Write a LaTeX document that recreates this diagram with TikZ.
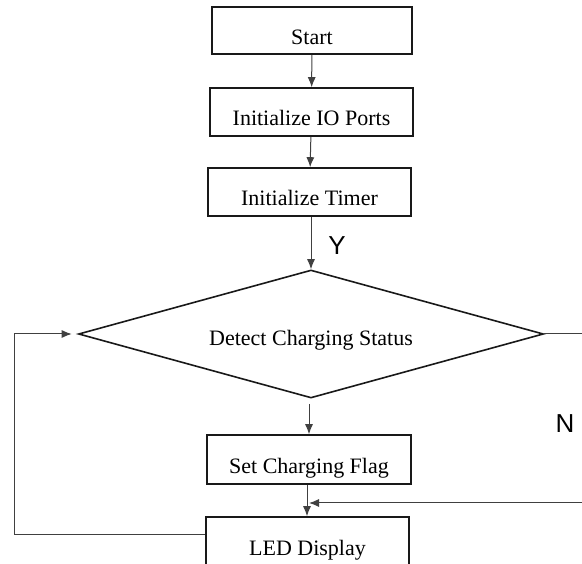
\documentclass[tikz,border=0pt]{standalone}
\usepackage{fontspec}
\setmainfont{Liberation Serif}
\newfontfamily\yesnofont{Liberation Sans}
\usetikzlibrary{shapes.geometric,arrows.meta}

\tikzset{
  stepbox/.style={draw=black!90, line width=1.6pt, inner sep=0pt,
    minimum width=203pt, minimum height=48pt,
    text height=28pt, text depth=0pt, font=\fontsize{22}{26}\selectfont},
  decide/.style={draw=black!90, shape=diamond, shape aspect=3.63, line width=1.6pt, inner sep=0pt,
    minimum width=465pt, minimum height=128pt,
    text height=24pt, text depth=0pt, font=\fontsize{22}{26}\selectfont},
  flow/.style={draw=black!75, line width=1pt, -{Latex[length=10pt,width=8pt]}},
  yn/.style={font=\yesnofont\fontsize{26}{30}\selectfont}
}

\begin{document}
\begin{tikzpicture}[x=1pt,y=-1pt]
\clip (0,0) rectangle (582,564);

\node (start) [stepbox, minimum width=200pt, minimum height=47pt] at (312,30.5) {Start};
\node (ioport) [stepbox] at (311.5,112) {Initialize IO Ports};
\node (timer) [stepbox] at (309.5,192) {Initialize Timer};
\node (detect) [decide] at (311,334) {Detect Charging Status};
\node (flag) [stepbox, minimum width=204pt, minimum height=49pt] at (309,459.5) {Set Charging Flag};
\node (led) [stepbox] at (307.5,541) {LED Display};

\node (yes) [yn] at (337,246) {Y};
\node (no) [yn] at (565,424) {N};

\coordinate (noback) at (600,503);
\coordinate (loopback) at (14,535);

\draw [flow] (start) -- (ioport);
\draw [flow] (ioport) -- (timer);
\draw [flow] (timer.south -| detect.north) -- (detect.north);
\draw [flow, shorten <=5pt] (detect.south -| flag.north) -- (flag.north);
\draw [flow] (flag.south -| 307,0) -- (led.north -| 307,0);
\draw [flow, shorten >=2pt] (detect.east) -- (detect.east -| noback) -- (noback) -- (307,503);
\draw [flow, shorten >=6pt] (led.west |- loopback) -- (loopback) -- (loopback |- detect.west) -- (detect.west);
\end{tikzpicture}
\end{document}
